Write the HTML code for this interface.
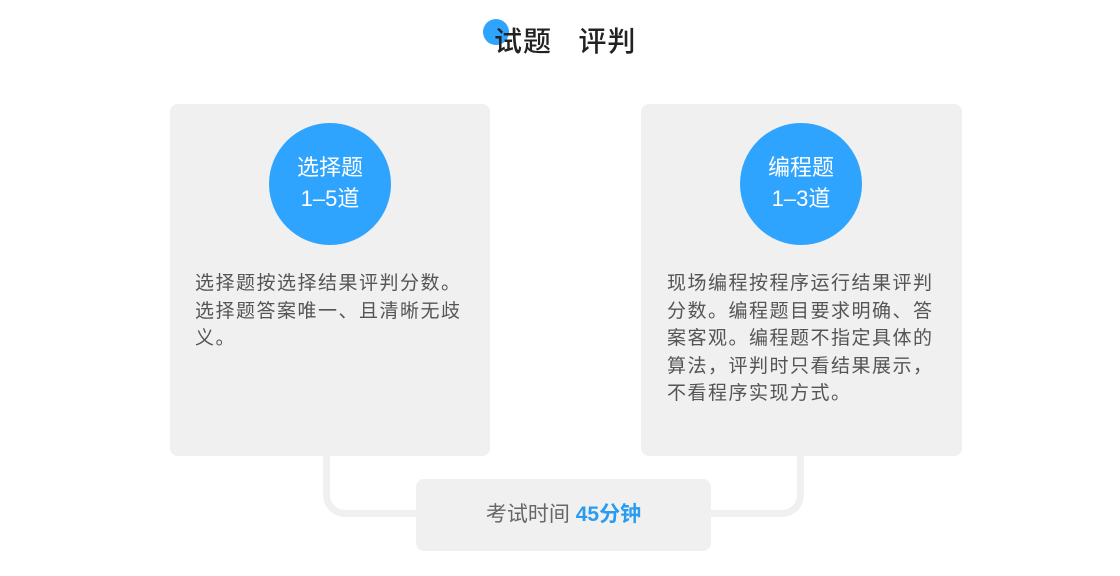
<!DOCTYPE html>
<html><head><meta charset="utf-8"><style>
body{margin:0;width:1120px;height:576px;background:#fff;position:relative;overflow:hidden;font-family:"Liberation Sans","Noto Sans CJK SC",sans-serif}
.a{position:absolute}
.box{background:#f0f0f0;border-radius:8px}
.c{border-radius:50%;background:#2fa4ff;color:#fff;text-align:center;font-size:22px;line-height:31px;box-sizing:border-box;padding-top:29px}
.t{font-size:19px;line-height:27.5px;color:#555;letter-spacing:1.5px;width:270px}
</style></head><body>
<div class="a" style="left:483px;top:19px;width:26px;height:26px;border-radius:50%;background:#2fa4ff"></div>
<div class="a" style="left:494px;top:20px;font-size:28px;color:#222;letter-spacing:1px;font-weight:500">试题&nbsp;&nbsp;&nbsp;评判</div>
<div class="a" style="left:323px;top:450px;width:100px;height:67px;border:7px solid #f0f0f0;border-top:none;border-right:none;border-radius:0 0 0 22px;box-sizing:border-box"></div>
<div class="a" style="left:700px;top:450px;width:104px;height:67px;border:7px solid #f0f0f0;border-top:none;border-left:none;border-radius:0 0 22px 0;box-sizing:border-box"></div>
<div class="a box" style="left:170px;top:104px;width:320px;height:352px"></div>
<div class="a box" style="left:641px;top:104px;width:321px;height:352px"></div>
<div class="a c" style="left:269px;top:123px;width:122px;height:122px">选择题<br>1–5道</div>
<div class="a c" style="left:740px;top:123px;width:122px;height:122px">编程题<br>1–3道</div>
<div class="a t" style="left:195px;top:270px">选择题按选择结果评判分数。选择题答案唯一、且清晰无歧义。</div>
<div class="a t" style="left:667px;top:270px">现场编程按程序运行结果评判分数。编程题目要求明确、答案客观。编程题不指定具体的算法，评判时只看结果展示，不看程序实现方式。</div>
<div class="a box" style="left:416px;top:479px;width:295px;height:72px"></div>
<div class="a" style="left:416px;top:479px;width:295px;height:72px;line-height:72px;text-align:center;font-size:21px;color:#666">考试时间 <span style="color:#2a9cf0;font-weight:bold">45分钟</span></div>
</body></html>
